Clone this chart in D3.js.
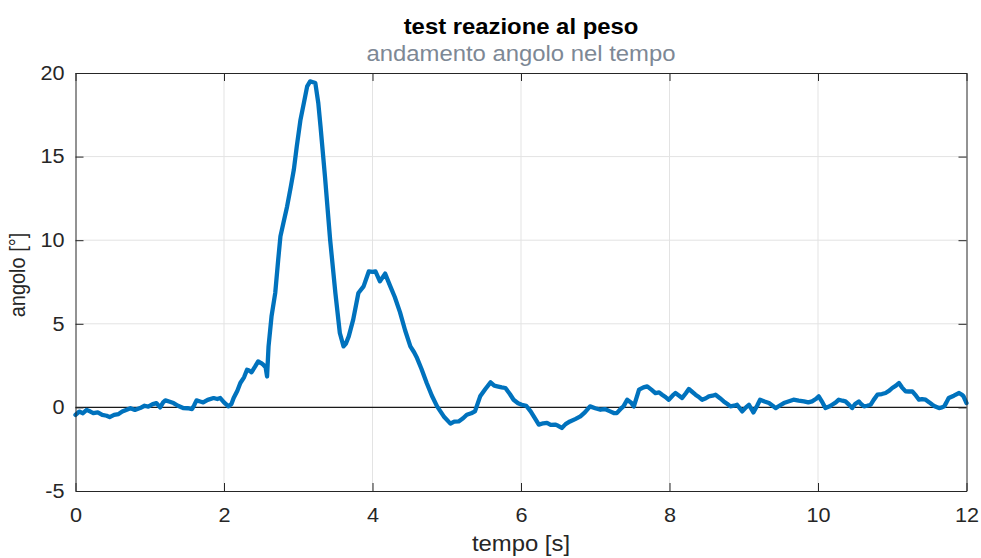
<!DOCTYPE html>
<html>
<head>
<meta charset="utf-8">
<script src="https://cdn.jsdelivr.net/npm/d3@7"></script>
<style>
  html, body { margin: 0; padding: 0; background: #fff; }
  svg { display: block; font-family: "Liberation Sans", Arial, Helvetica, sans-serif; }
</style>
</head>
<body>
<svg id="chart" width="981" height="558"></svg>
<script>
// Sampled angle response (degrees) over time (seconds)
const timeS = [
  0.00,0.05,0.10,0.15,0.20,0.24,0.30,0.36,0.42,0.46,0.52,0.58,0.63,0.69,0.74,0.80,0.87,0.93,0.98,1.04,
  1.09,1.14,1.18,1.21,1.26,1.32,1.38,1.45,1.51,1.57,1.60,1.63,1.68,1.72,1.78,1.86,1.91,1.95,2.00,2.06,
  2.10,2.13,2.18,2.22,2.27,2.31,2.34,2.37,2.42,2.46,2.50,2.53,2.56,2.58,2.60,2.64,2.69,2.73,2.76,2.80,
  2.85,2.90,2.94,2.98,3.03,3.08,3.12,3.16,3.20,3.23,3.27,3.30,3.36,3.43,3.50,3.56,3.61,3.64,3.68,3.74,
  3.81,3.88,3.95,4.00,4.04,4.10,4.17,4.24,4.30,4.37,4.44,4.51,4.56,4.60,4.66,4.73,4.80,4.87,4.96,5.05,
  5.10,5.16,5.22,5.27,5.33,5.38,5.45,5.52,5.59,5.64,5.68,5.74,5.79,5.85,5.90,5.96,6.01,6.07,6.13,6.18,
  6.24,6.30,6.35,6.40,6.46,6.50,6.55,6.60,6.66,6.73,6.80,6.86,6.93,7.00,7.07,7.13,7.20,7.25,7.29,7.35,
  7.38,7.43,7.48,7.52,7.59,7.65,7.70,7.76,7.81,7.86,7.90,7.95,7.99,8.04,8.08,8.13,8.17,8.22,8.26,8.30,
  8.35,8.40,8.44,8.49,8.53,8.58,8.62,8.68,8.73,8.78,8.82,8.87,8.91,8.98,9.03,9.07,9.13,9.18,9.22,9.28,
  9.34,9.39,9.43,9.48,9.54,9.60,9.67,9.74,9.81,9.87,9.92,9.97,10.01,10.06,10.10,10.15,10.19,10.24,10.28,10.33,
  10.37,10.42,10.46,10.50,10.55,10.58,10.62,10.66,10.71,10.75,10.80,10.86,10.91,10.96,11.00,11.05,11.09,11.13,11.18,11.22,
  11.27,11.32,11.36,11.40,11.45,11.50,11.54,11.58,11.63,11.67,11.70,11.73,11.76,11.83,11.90,11.94,11.96,12.00
];
const angleDeg = [
  -0.45,-0.25,-0.35,-0.15,-0.25,-0.34,-0.30,-0.45,-0.50,-0.58,-0.45,-0.40,-0.25,-0.14,-0.05,-0.15,-0.04,0.10,0.05,0.20,
  0.26,0.00,0.30,0.42,0.35,0.26,0.10,-0.04,-0.05,-0.10,0.15,0.42,0.35,0.30,0.45,0.56,0.50,0.56,0.30,0.06,
  0.20,0.56,1.00,1.46,1.80,2.25,2.20,2.10,2.45,2.75,2.65,2.55,2.40,1.85,3.65,5.44,6.84,8.83,10.23,11.03,
  12.02,13.20,14.20,15.60,17.20,18.30,19.20,19.50,19.45,19.40,18.20,16.80,13.80,10.00,6.84,4.45,3.65,3.80,4.25,5.25,
  6.84,7.24,8.13,8.10,8.13,7.54,8.00,7.24,6.60,5.70,4.60,3.65,3.30,2.95,2.30,1.46,0.70,0.06,-0.54,-0.97,
  -0.85,-0.84,-0.65,-0.44,-0.35,-0.24,0.66,1.10,1.50,1.30,1.26,1.20,1.16,0.80,0.46,0.25,0.16,0.10,-0.24,-0.60,
  -1.03,-0.95,-0.93,-1.05,-1.03,-1.10,-1.23,-1.00,-0.84,-0.70,-0.54,-0.30,0.06,-0.05,-0.14,-0.10,-0.24,-0.34,-0.34,-0.05,
  0.06,0.46,0.30,0.06,1.06,1.20,1.26,1.05,0.86,0.90,0.76,0.60,0.46,0.70,0.86,0.70,0.56,0.85,1.10,0.95,
  0.76,0.60,0.46,0.55,0.66,0.70,0.76,0.55,0.36,0.20,0.06,0.10,0.16,-0.24,0.00,0.16,-0.30,0.10,0.46,0.35,
  0.26,0.10,-0.04,0.10,0.26,0.35,0.46,0.40,0.36,0.30,0.36,0.50,0.66,0.30,-0.04,0.05,0.16,0.30,0.46,0.40,
  0.36,0.15,-0.04,0.20,0.36,0.20,0.06,0.10,0.16,0.45,0.76,0.80,0.86,1.00,1.16,1.30,1.46,1.20,0.96,0.95,
  0.96,0.70,0.46,0.50,0.46,0.30,0.16,0.05,-0.04,0.00,0.06,0.30,0.56,0.70,0.86,0.75,0.66,0.26
];
const xTicks = [0, 2, 4, 6, 8, 10, 12];
const yTicks = [-5, 0, 5, 10, 15, 20];
const titleText = "test reazione al peso";
const subtitleText = "andamento angolo nel tempo";
const xLabelText = "tempo [s]";
const yLabelText = "angolo [°]";

const data = timeS.map((t, i) => ({ t, v: angleDeg[i] }));

const svg = d3.select("#chart");
const plotLeft = 75.5, plotRight = 966.5, plotTop = 73, plotBottom = 491;
const sx = 1.11; // horizontal stretch applied to text glyphs

const x = d3.scaleLinear().domain([0, 12]).range([plotLeft, plotRight]);
const y = d3.scaleLinear().domain([-5, 20]).range([plotBottom, plotTop]);

const axisColor = "#262626";
const plainNumber = d => String(d); // keeps the ASCII hyphen for negatives

// grid
const grid = svg.append("g").attr("stroke", "#e3e3e3").attr("stroke-width", 1);
grid.selectAll("line.gx").data(xTicks.slice(1, -1)).join("line")
  .attr("class", "gx")
  .attr("x1", d => x(d)).attr("x2", d => x(d))
  .attr("y1", plotTop).attr("y2", plotBottom);
grid.selectAll("line.gy").data(yTicks.slice(1, -1)).join("line")
  .attr("class", "gy")
  .attr("y1", d => y(d)).attr("y2", d => y(d))
  .attr("x1", plotLeft).attr("x2", plotRight);

// zero reference line
svg.append("line")
  .attr("x1", plotLeft).attr("x2", plotRight)
  .attr("y1", y(0)).attr("y2", y(0))
  .attr("stroke", "#1a1a1a").attr("stroke-width", 1.2);

// signal
const line = d3.line().x(d => x(d.t)).y(d => y(d.v));
svg.append("path")
  .datum(data)
  .attr("d", line)
  .attr("fill", "none")
  .attr("stroke", "#0072BD")
  .attr("stroke-width", 4.3)
  .attr("stroke-linejoin", "round")
  .attr("stroke-linecap", "round");

// axes
function styleAxis(g) {
  g.select(".domain").attr("stroke", axisColor);
  g.selectAll(".tick line").attr("stroke", axisColor);
  g.selectAll(".tick text")
    .attr("fill", axisColor)
    .style("font-size", "19.5px")
    .style("font-family", "'Liberation Sans', Arial, Helvetica, sans-serif");
}

const gx = svg.append("g").attr("transform", `translate(0,${plotBottom})`)
  .call(d3.axisBottom(x).tickValues(xTicks).tickFormat(plainNumber)
    .tickSizeInner(-8).tickSizeOuter(0).tickPadding(17))
  .call(styleAxis);
gx.selectAll(".tick text").attr("transform", `scale(${sx},1)`);

svg.append("g").attr("transform", `translate(0,${plotTop})`)
  .call(d3.axisTop(x).tickValues(xTicks).tickSizeInner(-8).tickSizeOuter(0).tickFormat(""))
  .call(styleAxis);

const gy = svg.append("g").attr("transform", `translate(${plotLeft},0)`)
  .call(d3.axisLeft(y).tickValues(yTicks).tickFormat(plainNumber)
    .tickSizeInner(-8).tickSizeOuter(0).tickPadding(11))
  .call(styleAxis);
gy.selectAll(".tick text")
  .attr("x", -11 / sx)
  .attr("transform", `scale(${sx},1)`);

svg.append("g").attr("transform", `translate(${plotRight},0)`)
  .call(d3.axisRight(y).tickValues(yTicks).tickSizeInner(-8).tickSizeOuter(0).tickFormat(""))
  .call(styleAxis);

// titles and labels
const cx = (plotLeft + plotRight) / 2;
svg.append("text")
  .attr("transform", `translate(${cx},34.3) scale(${sx},1)`)
  .attr("text-anchor", "middle")
  .style("font-size", "21.5px").style("font-weight", "bold")
  .attr("fill", "#000")
  .text(titleText);

svg.append("text")
  .attr("transform", `translate(${cx},60.7) scale(${sx},1)`)
  .attr("text-anchor", "middle")
  .style("font-size", "21.5px")
  .attr("fill", "#7d8895")
  .text(subtitleText);

svg.append("text")
  .attr("transform", `translate(${cx},551) scale(${sx},1)`)
  .attr("text-anchor", "middle")
  .style("font-size", "21.5px")
  .attr("fill", axisColor)
  .text(xLabelText);

svg.append("text")
  .attr("transform", `translate(25,275) scale(${sx},1) rotate(-90)`)
  .attr("text-anchor", "middle")
  .style("font-size", "20px")
  .attr("fill", axisColor)
  .text(yLabelText);
</script>
</body>
</html>
